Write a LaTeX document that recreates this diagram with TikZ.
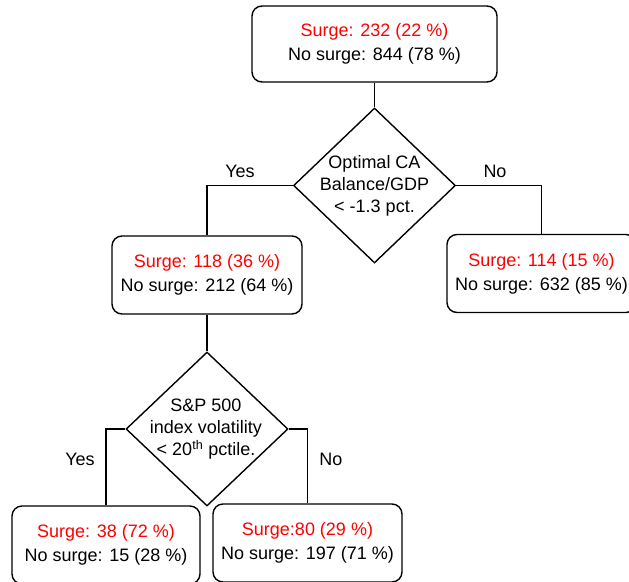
\documentclass[tikz,border=0pt]{standalone}
\usepackage{fontspec}
\setmainfont{Liberation Sans}
\usetikzlibrary{shapes.geometric}

\begin{document}
\begin{tikzpicture}[x=1pt, y=-1pt, line width=1.4pt,
		font=\fontsize{18}{24}\selectfont,
		leaf/.style={draw, rounded corners=10pt, minimum width=189pt, minimum height=78pt, align=center, inner sep=0pt},
		decision/.style={draw, diamond, minimum width=162pt, minimum height=155pt, inner sep=0pt},
		ask/.style={align=center, font=\fontsize{18}{22}\selectfont}]
		\clip (0,0) rectangle (629,581);
		% boxes
		\node[leaf, minimum width=245pt, minimum height=76pt] (root) at (374.5,44) {\textcolor{red}{Surge: 232 (22 \%)}\\No surge: 844 (78 \%)};
		\node[leaf, minimum width=190pt] (left) at (207,275) {\textcolor{red}{Surge: 118 (36 \%)}\\No surge: 212 (64 \%)};
		\node[leaf] (right) at (541.5,273.5) {\textcolor{red}{Surge: 114 (15 \%)}\\No surge: 632 (85 \%)};
		\node[leaf, minimum width=188pt] (ll) at (106,545) {\textcolor{red}{Surge: 38 (72 \%)}\\No surge: 15 (28 \%)};
		\node[leaf] (lr) at (307.5,543) {\textcolor{red}{Surge:80 (29 \%)}\\No surge: 197 (71 \%)};
		% splits
		\node[decision] (q1) at (374.5,185.5) {};
		\node[ask] (q1text) at (374.5,186) {Optimal CA\\Balance/GDP\\< -1.3 pct.};
		\node[decision, minimum height=154pt] (q2) at (207,429) {};
		\node[ask] (q2text) at (206,429) {S\&P 500\\index volatility\\< 20\textsuperscript{th} pctile.};
		% connectors
		\draw (root) -- (q1);
		\draw (q1.west) -| (left.north);
		\draw (q1.east) -| (right.north);
		\draw (left) -- (q2);
		\draw (q2.west) -| (ll.north);
		\draw (q2.east) -| (lr.north);
		% answers
		\node (yes1) at (240,171) {Yes};
		\node (no1) at (495,171) {No};
		\node (yes2) at (80,459) {Yes};
		\node (no2) at (331,459) {No};
	\end{tikzpicture}
\end{document}
